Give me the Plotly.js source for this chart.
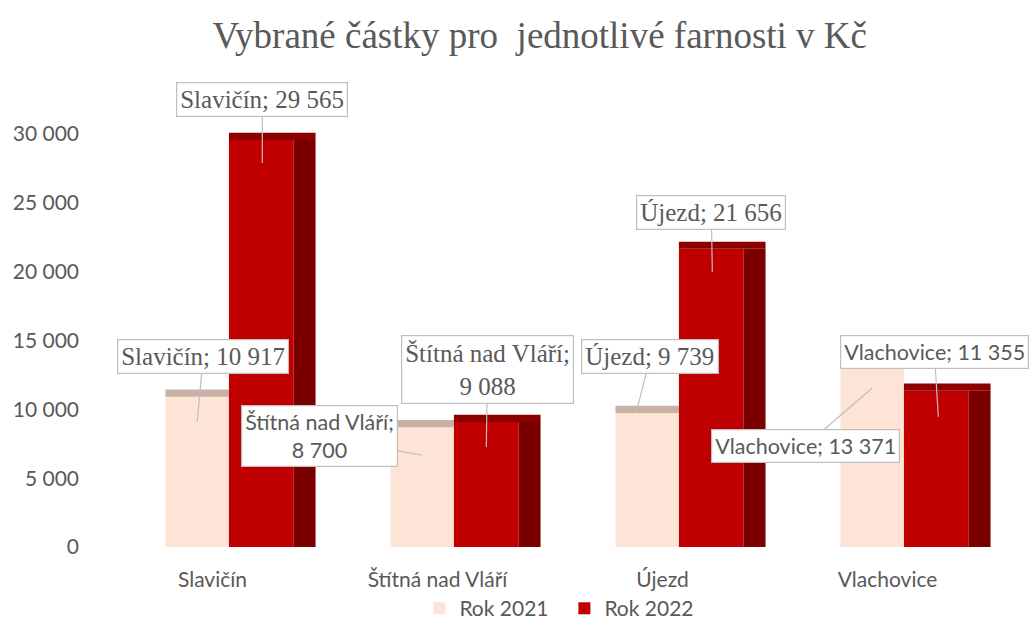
<!DOCTYPE html>
<html>
<head>
<meta charset="utf-8">
<script src="https://cdn.plot.ly/plotly-3.0.1.min.js"></script>
<style>html,body{margin:0;padding:0;background:#fff;}#chart{width:1032px;height:629px;}</style>
</head>
<body>
<div id="chart"></div>
<script>
const categories = ["Slavičín", "Štítná nad Vláří", "Újezd", "Vlachovice"];
const seriesNames = ["Rok 2021", "Rok 2022"];
const values2021 = [10917, 8700, 9739, 13371];
const values2022 = [29565, 9088, 21656, 11355];
const labelText2021 = ["Slavičín; 10 917", "Štítná nad Vláří;<br>8 700", "Újezd; 9 739", "Vlachovice; 13 371"];
const labelText2022 = ["Slavičín; 29 565", "Štítná nad Vláří;<br>9 088", "Újezd; 21 656", "Vlachovice; 11 355"];
const yTicks = [0, 5000, 10000, 15000, 20000, 25000, 30000];

const GREY = "#595959";
const SERIF = "Liberation Serif, Times New Roman, serif";
const SANS = "Lato, Open Sans, sans-serif";

const xIdx = categories.map((c, i) => i);

const light = {
  type: "bar", name: seriesNames[0], x: xIdx, y: values2021,
  offset: -0.209, width: 0.282,
  marker: {color: "#fde4d6"}, hoverinfo: "skip"
};
const lightTop = {
  type: "bar", showlegend: false, x: xIdx, y: values2021.map(() => 520), base: values2021,
  offset: -0.209, width: 0.282,
  marker: {color: "#c9b0a4"}, hoverinfo: "skip"
};
const red = {
  type: "bar", name: seriesNames[1], x: xIdx, y: values2022,
  offset: 0.073, width: 0.288,
  marker: {color: "#c00000"}, hoverinfo: "skip"
};
const redSide = {
  type: "bar", showlegend: false, x: xIdx, y: values2022,
  offset: 0.361, width: 0.097,
  marker: {color: "#7a0000"}, hoverinfo: "skip"
};
const redTop = {
  type: "bar", showlegend: false, x: xIdx, y: values2022.map(() => 520), base: values2022,
  offset: 0.073, width: 0.385,
  marker: {color: "#8e0000"}, hoverinfo: "skip"
};

// callout placement (pixel offsets / fonts per label)
const off2021 = [{ax: 6, ay: -65, ys: -25, xs: 0, f: SERIF},
                 {ax: -103, ay: -19, ys: -28, xs: 0, f: SANS},
                 {ax: 14, ay: -56, ys: 0, xs: -11, f: SERIF},
                 {ax: -67, ay: 58, ys: -25, xs: 0, f: SANS}];
const off2022 = [{ax: 0, ay: -63, ys: -23, xs: 1, f: SERIF},
                 {ax: 1, ay: -77, ys: -25, xs: 0, f: SERIF},
                 {ax: -1, ay: -59, ys: -23, xs: 1, f: SERIF},
                 {ax: -4, ay: -65, ys: -26, xs: 2, f: SANS}];

const annotations = [];
function addLabels(vals, texts, offs, centerOffset) {
  vals.forEach((v, i) => {
    const o = offs[i];
    annotations.push({
      x: i + centerOffset, y: v, xref: "x", yref: "y",
      text: texts[i], showarrow: true, arrowhead: 0, arrowwidth: 1.2, arrowcolor: "#bfbfbf",
      ax: o.ax, ay: o.ay, xshift: o.xs, yshift: o.ys,
      bgcolor: "#ffffff", bordercolor: "#bfbfbf", borderwidth: 1.2, borderpad: 3,
      font: {family: o.f, size: o.f === SANS ? 21.5 : 25, color: GREY}
    });
  });
}
addLabels(values2021, labelText2021, off2021, -0.209 + 0.141);
addLabels(values2022, labelText2022, off2022, 0.073 + 0.144);

const layout = {
  width: 1032, height: 629,
  margin: {l: 100, r: 32, t: 100, b: 82, autoexpand: false},
  paper_bgcolor: "#ffffff", plot_bgcolor: "#ffffff",
  separators: ", ",
  barmode: "overlay",
  title: {text: "Vybrané částky pro  jednotlivé farnosti v Kč", x: 0.523, xanchor: "center", y: 0.945, yanchor: "middle",
          font: {family: SERIF, size: 37, color: GREY}},
  xaxis: {
    tickmode: "array", tickvals: xIdx, ticktext: categories,
    range: [-0.5, 3.5], showgrid: false, zeroline: false, showline: false,
    ticks: "", ticklabelstandoff: 18,
    tickfont: {family: SANS, size: 21, color: GREY}
  },
  yaxis: {
    range: [0, 32470], tickmode: "array", tickvals: yTicks, tickformat: ",d",
    showgrid: false, zeroline: false, showline: false, ticks: "",
    ticklabelstandoff: 20,
    tickfont: {family: SANS, size: 21, color: GREY}
  },
  legend: {orientation: "h", x: 0.516, xanchor: "center", yref: "container", y: 0, yanchor: "bottom",
           bgcolor: "rgba(0,0,0,0)",
           font: {family: SANS, size: 21, color: GREY}, itemwidth: 30, entrywidth: 100},
  annotations: annotations,
  showlegend: true
};

Plotly.newPlot("chart", [light, lightTop, red, redSide, redTop], layout, {displayModeBar: false, staticPlot: true});
</script>
</body>
</html>
